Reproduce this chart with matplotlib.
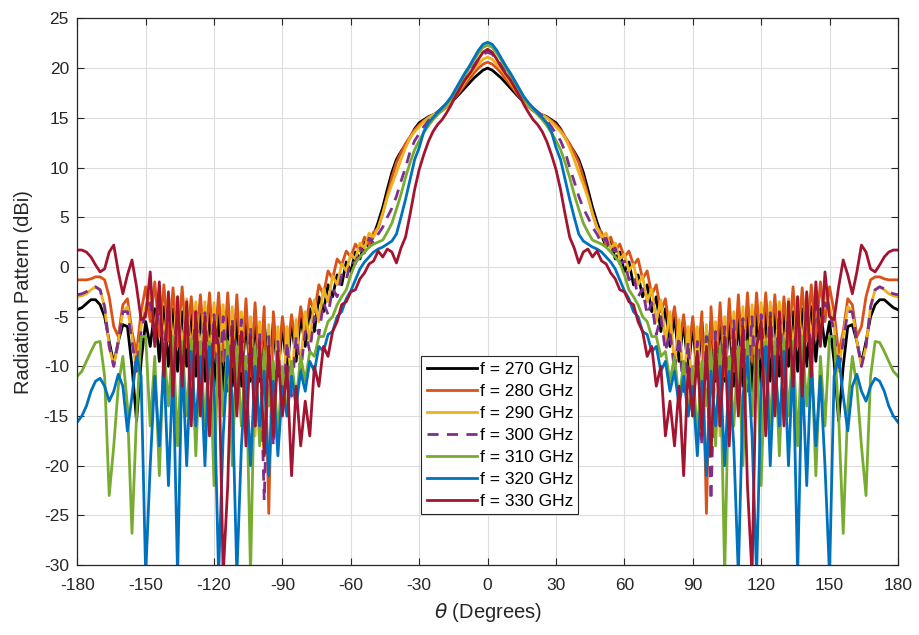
import numpy as np
import matplotlib
matplotlib.use('Agg')
import matplotlib.pyplot as plt

plt.rcParams['font.family'] = ['Liberation Sans', 'DejaVu Sans']
plt.rcParams['axes.unicode_minus'] = False

# angles 0..180 in 2 degree steps (pattern is symmetric about 0)
theta_half = list(range(0, 182, 2))

g270 = [20.0, 19.8, 19.4, 19.0, 18.5, 18.0, 17.5, 17.0, 16.6, 16.2, 15.8, 15.5, 15.3, 15.1, 14.8, 14.5,
        13.9, 13.0, 12.3, 11.6, 10.8, 9.5, 7.8, 6.0, 4.5, 3.2,
        2.0, 2.5, 0.8, 1.5, -0.5, 0.5, -1.8, -0.8, -3.0, -1.8, -4.5, -3.0, -6.5, -4.2, -8.0, -5.0,
        -9.5, -5.5, -10.5, -5.8, -11.0, -5.5, -11.0, -5.5, -11.5, -5.3, -11.5, -5.2, -12.0, -5.0,
        -12.0, -4.8, -12.5, -4.6, -12.0, -4.5, -11.5, -4.5, -11.0, -4.8, -10.0, -4.5, -10.5, -4.2,
        -10.0, -4.0, -9.5, -4.2, -8.0, -5.5, -9.5, -15.5, -10.0, -6.0, -5.8, -7.5, -9.7, -7.5,
        -5.0, -3.8, -3.3, -3.3, -3.7, -4.1, -4.3]

g280 = [20.6, 20.4, 20.0, 19.5, 18.9, 18.3, 17.7, 17.1, 16.6, 16.1, 15.7, 15.4, 15.2, 15.0, 14.7, 14.3,
        13.8, 13.1, 12.4, 11.5, 10.5, 9.0, 7.2, 5.4, 3.9, 3.5,
        2.2, 3.0, 1.6, 2.3, 1.0, 1.6, 0.2, 0.8, -1.2, -0.4, -2.8, -1.8, -4.5, -3.2, -6.5, -4.0,
        -8.0, -4.8, -9.0, -5.0, -10.0, -4.5, -24.8, -4.0, -11.0, -3.6, -11.0, -3.2, -10.5, -2.8,
        -10.0, -2.6, -9.5, -2.6, -9.0, -2.6, -8.5, -2.8, -8.5, -3.0, -8.0, -2.0, -8.0, -2.1,
        -7.5, -1.8, -7.0, -1.5, -5.5, -2.0, -4.5, -8.7, -6.5, -3.2, -3.8, -7.0, -6.0, -3.0,
        -1.3, -1.0, -1.0, -1.2, -1.3, -1.3, -1.3]

g290 = [21.1, 20.9, 20.4, 19.9, 19.3, 18.6, 17.9, 17.3, 16.7, 16.2, 15.8, 15.5, 15.3, 15.0, 14.6, 14.1,
        13.6, 13.0, 12.0, 10.8, 9.5, 8.3, 7.0, 5.4, 4.0, 3.0,
        3.4, 1.9, 2.4, 0.8, 1.3, -0.4, 0.3, -1.8, -0.9, -3.5, -2.2, -5.5, -3.3, -7.5, -4.5, -10.0,
        -5.3, -12.0, -6.0, -14.0, -6.0, -16.0, -5.8, -19.0, -5.5, -17.0, -5.0, -15.0, -4.5, -14.0,
        -4.0, -12.0, -3.8, -11.0, -3.6, -10.0, -3.5, -9.5, -3.5, -9.0, -3.2, -8.5, -3.0, -8.0,
        -2.8, -7.5, -2.6, -6.5, -2.6, -4.0, -6.0, -10.5, -7.0, -4.0, -4.5, -7.5, -10.0, -8.0,
        -4.0, -2.3, -2.0, -2.3, -2.7, -2.9, -3.0]

g300 = [21.6, 21.4, 20.9, 20.3, 19.6, 18.9, 18.2, 17.5, 16.9, 16.4, 16.0, 15.6, 15.2, 14.7, 14.1, 13.4,
        12.7, 11.6, 10.0, 8.6, 7.1, 5.9, 5.0, 4.0, 3.3, 2.4,
        2.9, 1.4, 1.9, 0.3, 0.6, -1.3, -0.8, -3.0, -2.2, -4.8, -3.6, -6.8, -5.0, -8.5, -6.5, -10.5,
        -7.0, -13.0, -7.5, -15.0, -7.5, -18.0, -7.0, -23.5, -6.5, -16.0, -6.0, -14.0, -5.3, -13.5,
        -5.2, -12.5, -5.0, -13.0, -4.8, -11.5, -4.6, -11.0, -4.5, -10.5, -4.3, -10.0, -4.2, -9.5,
        -4.0, -8.5, -3.8, -7.5, -3.6, -4.5, -6.5, -10.5, -7.5, -4.5, -4.5, -7.5, -10.0, -8.0,
        -4.0, -2.3, -2.0, -2.2, -2.5, -2.7, -2.8]

g310 = [22.3, 22.1, 21.5, 20.8, 20.0, 19.2, 18.4, 17.6, 16.9, 16.3, 15.8, 15.3, 14.8, 14.2, 13.5, 12.7,
        11.8, 10.5, 9.0, 7.3, 5.8, 4.4, 3.5, 2.7, 2.5, 2.3,
        2.0, 1.5, 1.0, 0.4, -0.8, -2.3, -3.0, -3.8, -5.0, -5.5, -7.0, -7.0, -9.0, -8.5, -11.5, -9.0,
        -13.5, -9.5, -15.0, -10.0, -17.0, -9.5, -14.0, -8.5, -18.0, -8.0, -31.0, -9.0, -16.0, -8.0,
        -20.0, -7.5, -15.0, -7.2, -22.0, -7.5, -16.0, -7.5, -19.0, -7.2, -15.0, -7.5, -18.0, -7.0,
        -14.0, -8.0, -21.0, -9.0, -16.0, -7.0, -7.0, -15.0, -26.8, -14.0, -9.0, -12.0, -18.0, -23.0,
        -11.0, -7.5, -7.6, -8.5, -9.5, -10.5, -11.0]

g320 = [22.6, 22.4, 21.8, 21.0, 20.2, 19.5, 18.7, 17.9, 17.1, 16.5, 16.0, 15.5, 15.0, 14.5, 13.6, 12.0,
        10.8, 8.8, 6.8, 5.0, 3.3, 2.6, 2.3, 2.0, 1.8, 1.5,
        1.0, 0.5, -0.2, -1.3, -2.4, -3.2, -4.5, -5.0, -6.5, -6.8, -8.5, -8.0, -10.5, -9.5, -12.5, -10.5,
        -14.0, -11.0, -15.0, -12.0, -19.0, -11.5, -21.0, -10.5, -16.0, -10.0, -20.0, -10.5, -18.0, -31.0,
        -13.0, -9.0, -17.0, -31.0, -12.0, -8.0, -20.0, -9.0, -16.0, -8.5, -20.0, -9.0, -31.0, -10.0,
        -22.0, -9.5, -18.0, -11.0, -20.0, -31.0, -11.0, -9.0, -13.0, -16.5, -12.0, -10.8, -12.5, -13.5,
        -12.0, -11.2, -11.5, -12.5, -14.0, -15.0, -15.6]

g330 = [21.9, 21.6, 20.9, 20.1, 19.4, 18.8, 18.0, 17.2, 16.3, 15.5, 14.8, 14.3, 13.6, 12.6, 11.3, 9.8,
        7.8, 5.3, 3.0, 1.9, 0.4, 1.5, 1.8, 1.0, 1.6, 0.6,
        0.3, -0.6, -1.2, -2.3, -2.5, -3.5, -3.8, -5.5, -6.5, -9.0, -8.0, -12.0, -10.0, -17.0, -13.5, -18.0,
        -12.0, -21.0, -10.0, -15.0, -8.5, -17.0, -8.0, -19.0, -7.5, -16.0, -7.0, -18.0, -6.5, -15.0,
        -6.0, -22.0, -31.0, -8.0, -5.5, -17.0, -5.0, -15.0, -4.5, -16.0, -3.5, -12.0, -3.0, -13.0,
        -2.5, -11.0, -1.5, -8.0, -0.5, -5.0, -5.3, -2.0, 0.7, -0.8, -2.7, -0.5, 2.2, 1.5,
        -0.2, -0.5, 0.2, 1.0, 1.5, 1.7, 1.7]

freqs = ['f = 270 GHz', 'f = 280 GHz', 'f = 290 GHz', 'f = 300 GHz',
         'f = 310 GHz', 'f = 320 GHz', 'f = 330 GHz']
colors = ['#000000', '#D95319', '#EDB120', '#7E2F8E', '#77AC30', '#0072BD', '#A2142F']
series = [g270, g280, g290, g300, g310, g320, g330]


def full(vals):
    v = np.array(vals)
    return np.concatenate([v[:0:-1], v])


theta = np.concatenate([-np.array(theta_half)[:0:-1], np.array(theta_half)])

fig = plt.figure(figsize=(9.2, 6.35), dpi=100)
ax = fig.add_axes([0.084, 0.110, 0.892, 0.861])

for vals, c, lab in zip(series, colors, freqs):
    if lab == 'f = 300 GHz':
        ax.plot(theta, full(vals), color=c, lw=2.0, ls=(0, (4, 3)), label=lab)
    else:
        ax.plot(theta, full(vals), color=c, lw=2.0, label=lab)

ax.set_xlim(-180, 180)
ax.set_ylim(-30, 25)
ax.set_xticks(np.arange(-180, 181, 30))
ax.set_yticks(np.arange(-30, 26, 5))
ax.grid(True, color='#dcdcdc', lw=0.8)
ax.set_axisbelow(True)
ax.tick_params(direction='in', top=True, right=True, labelsize=12.5, length=5, width=0.8,
               colors='#262626')
ax.tick_params(axis='x', pad=9)
ax.tick_params(axis='y', pad=6)
for s in ax.spines.values():
    s.set_linewidth(0.9)
    s.set_color('#262626')

ax.set_xlabel(r'$\theta$ (Degrees)', fontsize=14.5, color='#262626', labelpad=6)
ax.set_ylabel('Radiation Pattern (dBi)', fontsize=14.5, color='#262626', labelpad=8)

leg = ax.legend(loc='lower center', bbox_to_anchor=(0.515, 0.077), fontsize=12.5,
                handlelength=2.9, handletextpad=0.15, labelspacing=0.4,
                borderpad=0.3, fancybox=False, framealpha=1.0, edgecolor='#262626')
leg.get_frame().set_linewidth(0.8)

fig.savefig('out.png', dpi=100)
